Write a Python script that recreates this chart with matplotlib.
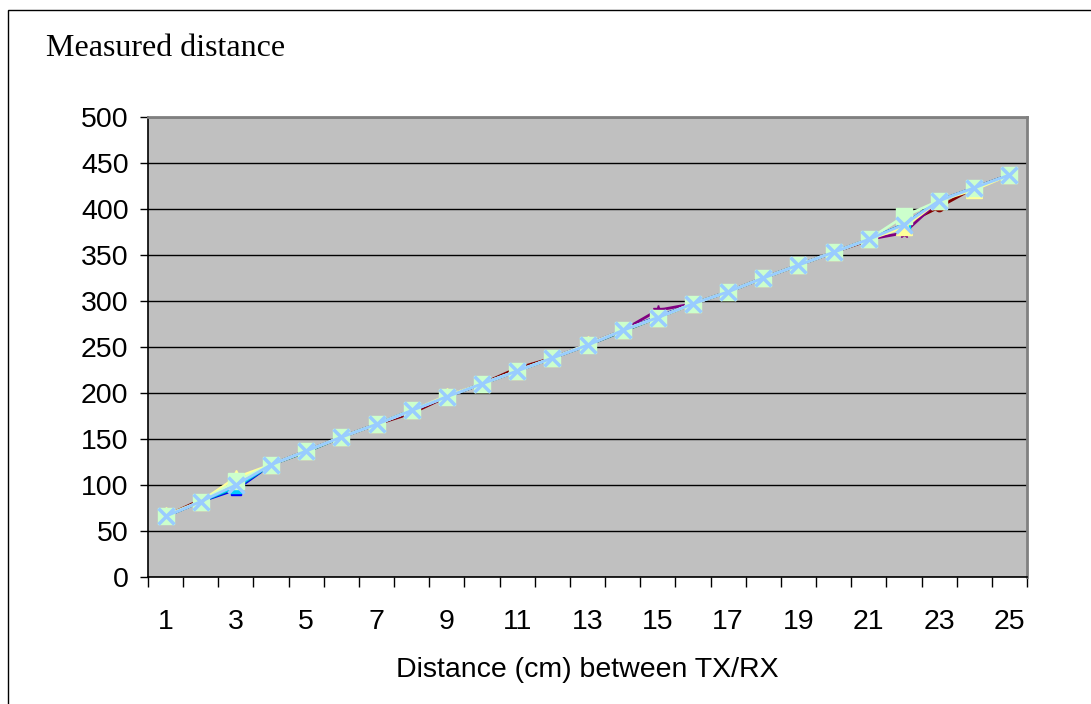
import matplotlib.pyplot as plt
import numpy as np

plt.rcParams["font.family"] = ["Liberation Sans", "DejaVu Sans"]

# distance categories (cm)
distance = list(range(1, 26))

# readings of the same sweep, eight runs
base = [66, 82, 98, 122, 137, 152, 166, 181, 196, 210, 224, 238, 252,
        268, 282, 297, 310, 325, 339, 353, 367, 383, 409, 423, 437]
run_blue = [66, 82, 95, 122, 137, 152, 166, 181, 196, 210, 224, 238, 253,
            268, 283, 297, 310, 325, 339, 353, 367, 383, 409, 423, 437]
run_teal = [66, 82, 97, 122, 136, 152, 166, 181, 196, 210, 224, 238, 252,
            267, 282, 297, 310, 325, 339, 353, 367, 383, 409, 423, 437]
run_red = [66, 84, 99, 122, 137, 152, 166, 178, 196, 210, 227, 238, 252,
           268, 282, 297, 310, 325, 339, 353, 366, 383, 402, 423, 437]
run_purple = [66, 82, 99, 122, 137, 152, 166, 180, 196, 210, 224, 238, 252,
              268, 290, 297, 310, 325, 339, 353, 367, 374, 409, 423, 437]
run_sky = base
run_yellow = [67, 82, 108, 122, 137, 152, 166, 181, 197, 210, 224, 238, 253,
              268, 282, 297, 310, 325, 339, 353, 367, 380, 409, 421, 437]
run_green = [66, 82, 104, 122, 137, 152, 166, 181, 196, 210, 224, 238, 252,
             268, 282, 297, 310, 325, 339, 353, 367, 392, 409, 423, 437]
run_x = [66, 82, 100, 122, 137, 152, 166, 181, 196, 210, 224, 238, 252,
         268, 282, 297, 310, 325, 339, 353, 367, 383, 409, 423, 437]

x = np.arange(len(distance))

fig = plt.figure(figsize=(10.91, 7.04), dpi=100)
fig.patch.set_facecolor("white")
ax = fig.add_axes([148 / 1091, 1 - 577 / 704, (1027 - 148) / 1091, (577 - 117) / 704])
ax.set_facecolor("#c0c0c0")

series = [
    (run_blue, "#0000ff", "s", 7),
    (run_teal, "#008080", "+", 7),
    (run_red, "#800000", "o", 6),
    (run_purple, "#800080", "*", 7),
    (run_sky, "#00ccff", "s", 8),
    (run_yellow, "#ffff99", "^", 11),
    (run_green, "#ccffcc", "s", 12),
    (run_x, "#99ccff", "x", 11),
]
for vals, col, mk, ms in series:
    mew = 2.5 if mk == "x" else 1
    ax.plot(x, vals, color=col, lw=2, marker=mk, markersize=ms,
            markerfacecolor=col, markeredgecolor=col, markeredgewidth=mew)

ax.set_xlim(-0.5, len(distance) - 0.5)
ax.set_ylim(0, 500)
ax.set_yticks(range(0, 501, 50))
ax.yaxis.grid(True, color="black", lw=1)
ax.set_axisbelow(True)

# category boundaries carry tick marks, odd categories carry labels
ax.set_xticks(np.arange(-0.5, len(distance), 1))
ax.set_xticklabels([])
ax.set_xticks(x[::2], minor=True)
ax.set_xticklabels([str(d) for d in distance[::2]], minor=True)
ax.tick_params(axis="x", which="major", length=7, width=1, direction="out")
ax.tick_params(axis="x", which="minor", length=0, pad=23, labelsize=20.5)
ax.tick_params(axis="y", length=6, width=1, direction="out", labelsize=20.5, pad=8)

for s in ["left", "bottom"]:
    ax.spines[s].set_color("black")
    ax.spines[s].set_linewidth(1.2)
for s in ["top", "right"]:
    ax.spines[s].set_color("#808080")
    ax.spines[s].set_linewidth(2)

ax.set_xlabel("Distance (cm) between TX/RX", fontsize=20.5, labelpad=16)

fig.text(46 / 1091, 1 - 48 / 704, "Measured distance", fontsize=23,
         family="Liberation Serif", va="center", ha="left")

# outer chart frame
frame = plt.Rectangle((8 / 1091, -0.01), 1.1, 1 - 10 / 704 + 0.01,
                      transform=fig.transFigure, fill=False, ec="black", lw=1)
fig.patches.append(frame)

fig.savefig("out.png", dpi=100)
